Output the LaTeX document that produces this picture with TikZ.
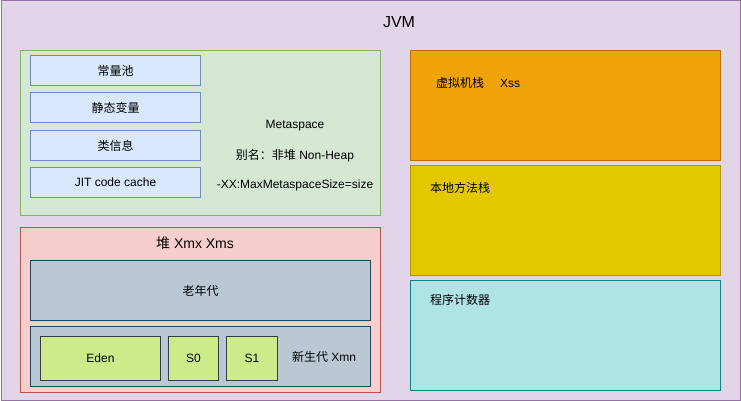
\documentclass[tikz,border=0pt]{standalone}
\usepackage{fontspec}
\setmainfont{Liberation Sans}
\newfontfamily\cjk{Noto Sans CJK SC}
\usetikzlibrary{positioning}

\definecolor{jvmfill}{HTML}{E1D5E7}
\definecolor{jvmline}{HTML}{9673A6}
\definecolor{metafill}{HTML}{D5E8D4}
\definecolor{metaline}{HTML}{82B366}
\definecolor{itemfill}{HTML}{DAE8FC}
\definecolor{itemline}{HTML}{6C8EBF}
\definecolor{heapfill}{HTML}{F8CECC}
\definecolor{heapline}{HTML}{B85450}
\definecolor{genfill}{HTML}{BAC8D3}
\definecolor{genline}{HTML}{23445D}
\definecolor{edenfill}{HTML}{CDEB8B}
\definecolor{edenline}{HTML}{36393D}
\definecolor{stackfill}{HTML}{F0A30A}
\definecolor{stackline}{HTML}{BD7000}
\definecolor{nativefill}{HTML}{E3C800}
\definecolor{nativeline}{HTML}{B09500}
\definecolor{pcfill}{HTML}{B0E3E6}
\definecolor{pcline}{HTML}{0E8088}

\newcommand{\zh}[1]{{\cjk #1}}

\tikzset{
  area/.style={draw, line width=1pt, anchor=north west, inner sep=0pt,
    font=\fontsize{12}{14}\selectfont},
  txt/.style={inner sep=0pt, font=\fontsize{12}{14}\selectfont},
}

\begin{document}
\begin{tikzpicture}[x=1pt,y=-1pt]
\useasboundingbox (0,0) rectangle (741,401);
\node[area, draw=jvmline, fill=jvmfill, minimum width=739pt, minimum height=399pt] (jvm) at (0.5,0.5) {};
\node[txt, font=\fontsize{16}{18}\selectfont] (jvmtitle) at (399,22) {JVM};

% metaspace
\node[area, draw=metaline, fill=metafill, minimum width=360pt, minimum height=165pt] (meta) at (20,50) {};
\node[area, draw=itemline, fill=itemfill, minimum width=170pt, minimum height=30pt] (pool) at (30,55) {\zh{常量池}};
\node[area, draw=itemline, fill=itemfill, minimum width=170pt, minimum height=30pt] (static) at (30,92) {\zh{静态变量}};
\node[area, draw=itemline, fill=itemfill, minimum width=170pt, minimum height=30pt] (klass) at (30,130) {\zh{类信息}};
\node[area, draw=itemline, fill=itemfill, minimum width=170pt, minimum height=30pt] (jit) at (30,167) {JIT code cache};
\node[txt] (metaname) at (295,126) {Metaspace};
\node[txt] (metaalias) at (295,156) {\zh{别名：非堆} Non-Heap};
\node[txt] (metasize) at (295,185) {-XX:MaxMetaspaceSize=size};

% heap
\node[area, draw=heapline, fill=heapfill, minimum width=360pt, minimum height=165pt] (heap) at (20,227) {};
\node[txt, font=\fontsize{14}{16}\selectfont] (heaptitle) at (195,243) {\zh{堆} Xmx Xms};
\node[area, draw=genline, fill=genfill, minimum width=340pt, minimum height=60pt] (old) at (30,260) {\zh{老年代}};
\node[area, draw=genline, fill=genfill, minimum width=340pt, minimum height=60pt] (young) at (30,326) {};
\node[area, draw=edenline, fill=edenfill, minimum width=120pt, minimum height=44pt] (eden) at (40,336) {Eden};
\node[area, draw=edenline, fill=edenfill, minimum width=50pt, minimum height=44pt] (s0) at (168,336) {S0};
\node[area, draw=edenline, fill=edenfill, minimum width=51pt, minimum height=44pt] (s1) at (226,336) {S1};
\node[txt] (younglabel) at (324,357) {\zh{新生代} Xmn};

% thread areas
\node[area, draw=stackline, fill=stackfill, minimum width=310pt, minimum height=110pt] (stack) at (410,50) {};
\node[txt, anchor=west] (stacklabel) at (436,83) {\zh{虚拟机栈}\hspace{16pt}Xss};
\node[area, draw=nativeline, fill=nativefill, minimum width=310pt, minimum height=110pt] (native) at (410,165) {};
\node[txt, anchor=west] (nativelabel) at (430,188) {\zh{本地方法栈}};
\node[area, draw=pcline, fill=pcfill, minimum width=310pt, minimum height=110pt] (pc) at (410,280) {};
\node[txt, anchor=west] (pclabel) at (430,300) {\zh{程序计数器}};
\end{tikzpicture}
\end{document}
